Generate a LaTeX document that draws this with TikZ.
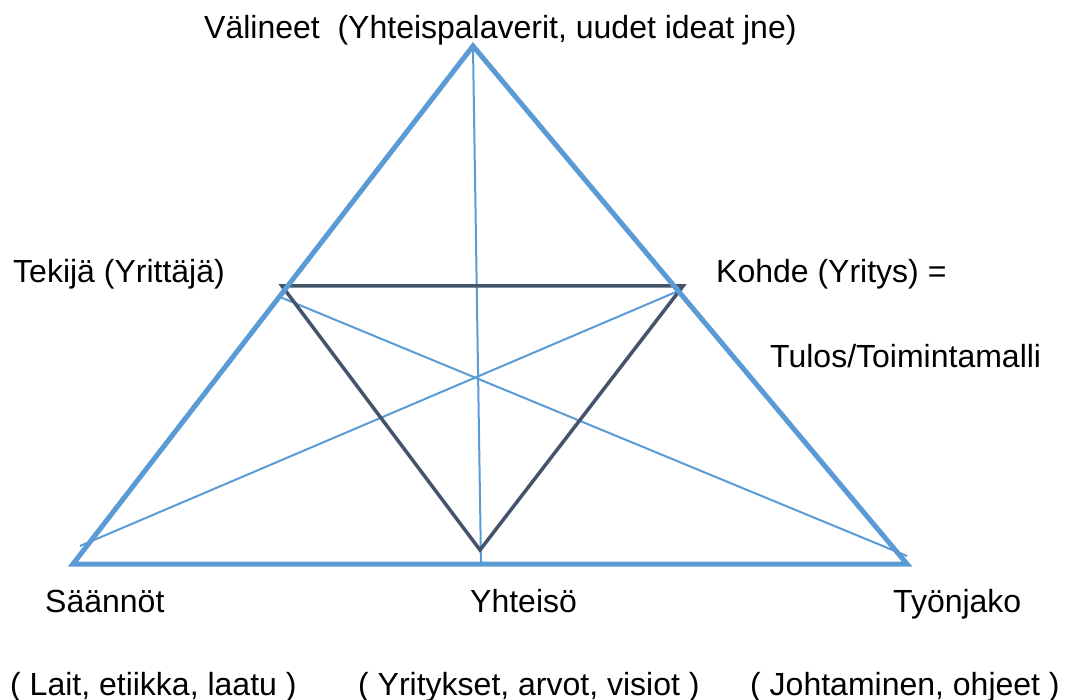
\documentclass[tikz,border=0pt]{standalone}
\usepackage{fontspec}
\setmainfont{Liberation Sans}
\definecolor{triblue}{HTML}{5B9BD5}
\definecolor{tridark}{HTML}{44546A}
\begin{document}
\begin{tikzpicture}[x=1pt,y=-1pt,
  outer/.style={draw=triblue,line width=5pt,line join=miter},
  inner/.style={draw=tridark,line width=3.5pt,line join=miter},
  thin/.style={draw=triblue,line width=2pt},
  lbl/.style={anchor=base west,inner sep=0pt,font=\fontsize{32}{38}\selectfont}]
\useasboundingbox (0,0) rectangle (1070,700);
% outer triangle
\coordinate (top) at (473,46);
\coordinate (bl) at (73,564);
\coordinate (br) at (907,564);
% inner inverted triangle
\coordinate (il) at (282,286);
\coordinate (ir) at (683,286);
\coordinate (ib) at (480,550);
% ends of the thin cross lines
\coordinate (vtop) at (473,48);
\coordinate (vbot) at (481,563);
\coordinate (d1a) at (280,297);
\coordinate (d1b) at (907,556);
\coordinate (d2a) at (683,289);
\coordinate (d2b) at (80,546);

\draw[thin] (vtop) -- (vbot);
\draw[thin] (d1a) -- (d1b);
\draw[thin] (d2a) -- (d2b);
\draw[inner] (il) -- (ir) -- (ib) -- cycle;
\draw[outer] (top) -- (bl) -- (br) -- cycle;

% labels
\node[lbl] (valineet) at (204,39) {Välineet\ \ (Yhteispalaverit, uudet ideat jne)};
\node[lbl] (tekija) at (13,283) {Tekijä (Yrittäjä)};
\node[lbl] (kohde) at (716,283) {Kohde (Yritys) =};
\node[lbl] (tulos) at (770,367) {Tulos/Toimintamalli};
\node[lbl] (saannot) at (45,612) {Säännöt};
\node[lbl] (yhteiso) at (470,612) {Yhteisö};
\node[lbl] (tyonjako) at (893,612) {Työnjako};
\node[lbl] (lait) at (10,695) {( Lait, etiikka, laatu )};
\node[lbl] (yritykset) at (358,695) {( Yritykset, arvot, visiot )};
\node[lbl] (johtaminen) at (750,695) {( Johtaminen, ohjeet )};
\end{tikzpicture}
\end{document}
